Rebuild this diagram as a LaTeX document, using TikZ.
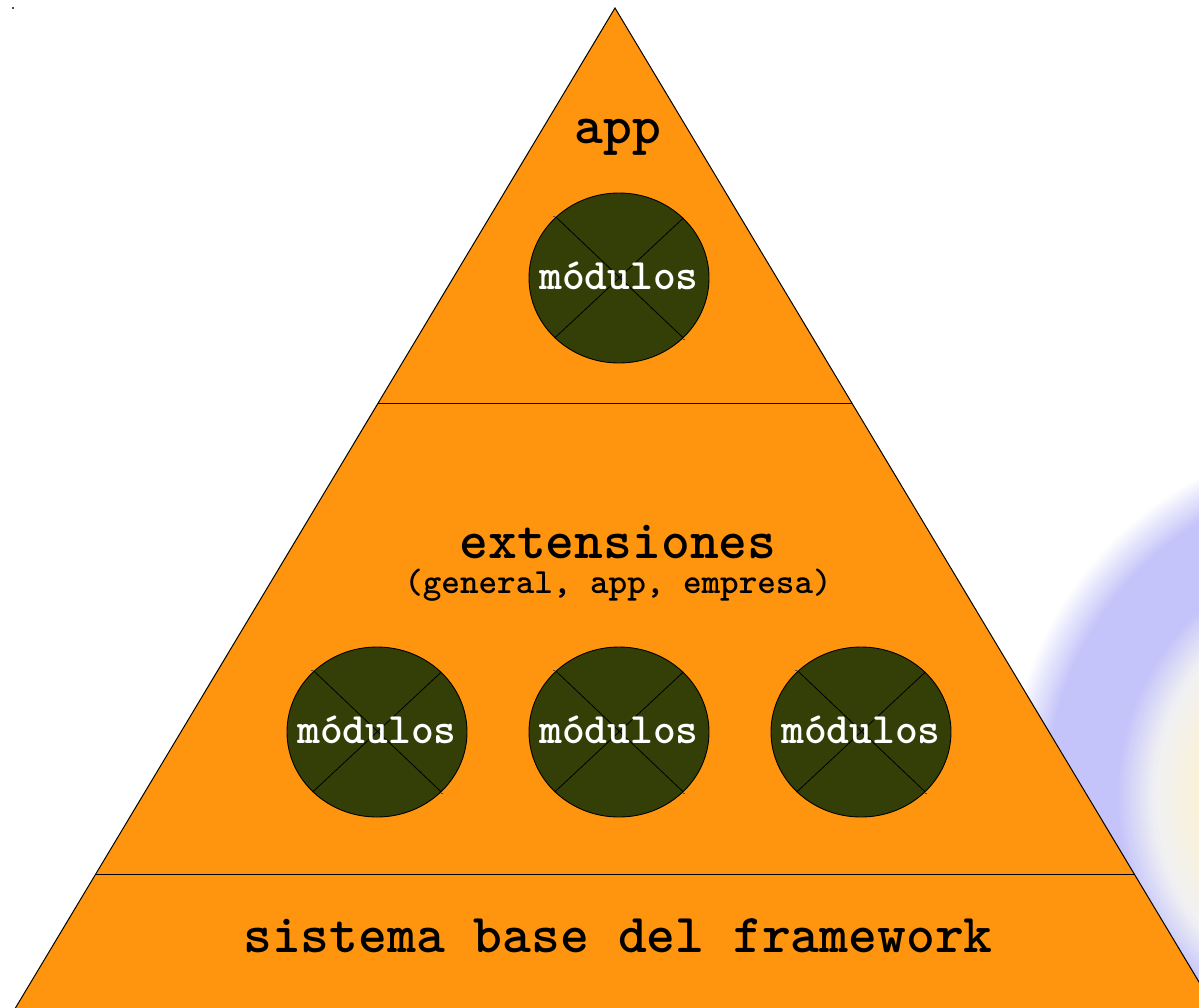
\documentclass[tikz,border=0pt]{standalone}
\usepackage{fontspec}
\usetikzlibrary{shapes.geometric}
\definecolor{pyr}{HTML}{FF950E}
\definecolor{modfill}{HTML}{333F07}
\definecolor{lav}{HTML}{C4C4FA}
\definecolor{cream}{HTML}{FAF1D8}
\definecolor{pale}{HTML}{F1F1F3}
\newcommand{\heavymono}{\ttfamily\bfseries\addfontfeatures{FakeBold=1.2}}
\tikzset{
  modcircle/.style={ellipse, draw=black, line width=0.9pt, fill=modfill, minimum width=180pt, minimum height=170pt, inner sep=0pt},
  modtext/.style={font=\heavymono\fontsize{43.4}{45}\selectfont, text=white, anchor=base, inner sep=0pt},
  crossline/.style={draw=black, line width=0.8pt},
  layerline/.style={draw=black, line width=1pt},
  bigtext/.style={font=\heavymono\fontsize{54.9}{56}\selectfont, text=black, anchor=base, inner sep=0pt},
  smalltext/.style={font=\heavymono\fontsize{35.4}{37}\selectfont, text=black, anchor=base, inner sep=0pt},
  speck/.style={fill=black!70, draw=none, minimum size=1.3pt, inner sep=0pt, rectangle}
}
\begin{document}
\begin{tikzpicture}[x=1pt,y=-1pt]
\useasboundingbox (0,0) rectangle (1199,1007);
\clip (0,0) rectangle (1199,1007);
\fill[white] (0,0) rectangle (1199,1007);
% background glow (blurred ring)
\coordinate (gc) at (1368,796);
\foreach \r in {362,360,...,322}{
  \pgfmathsetmacro\p{100*(362-\r)/40}
  \fill[lav!\p!white] (gc) circle (\r);
}
\fill[lav] (gc) circle (320);
\foreach \r in {252,250,...,216}{
  \pgfmathsetmacro\p{100*(\r-214)/38}
  \fill[lav!\p!pale] (gc) circle (\r);
}
\foreach \r in {212,210,...,172}{
  \pgfmathsetmacro\p{100*(\r-170)/42}
  \fill[pale!\p!cream] (gc) circle (\r);
}
\fill[cream] (gc) circle (170);
% pyramid
\coordinate (apex) at (615,8);
\coordinate (bl) at (13,1012);
\coordinate (br) at (1217,1012);
\filldraw[fill=pyr, draw=black, line width=1pt] (apex) -- (br) -- (bl) -- cycle;
\coordinate (l1a) at (378,403);
\coordinate (l1b) at (852,403);
\coordinate (l2a) at (95.4,874);
\coordinate (l2b) at (1134.6,874);
\draw[layerline] (l1a) -- (l1b);
\draw[layerline] (l2a) -- (l2b);
% labels
\node[bigtext] (app) at (618,143) {app};
\node[bigtext] (ext) at (618,558) {extensiones};
\node[smalltext] (extsub) at (618,593) {(general, app, empresa)};
\node[bigtext] (base) at (618,952) {sistema base del framework};
% modules
\foreach \n/\cx/\cy in {m0/619/278, m1/377/732, m2/619/732, m3/861/732}{
  \node[modcircle] (\n) at (\cx,\cy) {};
  \draw[crossline] (\n.43.4) -- (\n.223.4);
  \draw[crossline] (\n.136.6) -- (\n.-43.4);
  \node[modtext] (\n t) at ([yshift=-11pt]\n.center) {módulos};
  \node[speck] (\n a) at ([xshift=-1pt,yshift=1pt]\n.north west) {};
  \node[speck] (\n b) at ([xshift=1pt,yshift=-1pt]\n.south east) {};
}
\node[speck] (corner) at (13,8) {};
\end{tikzpicture}
\end{document}
